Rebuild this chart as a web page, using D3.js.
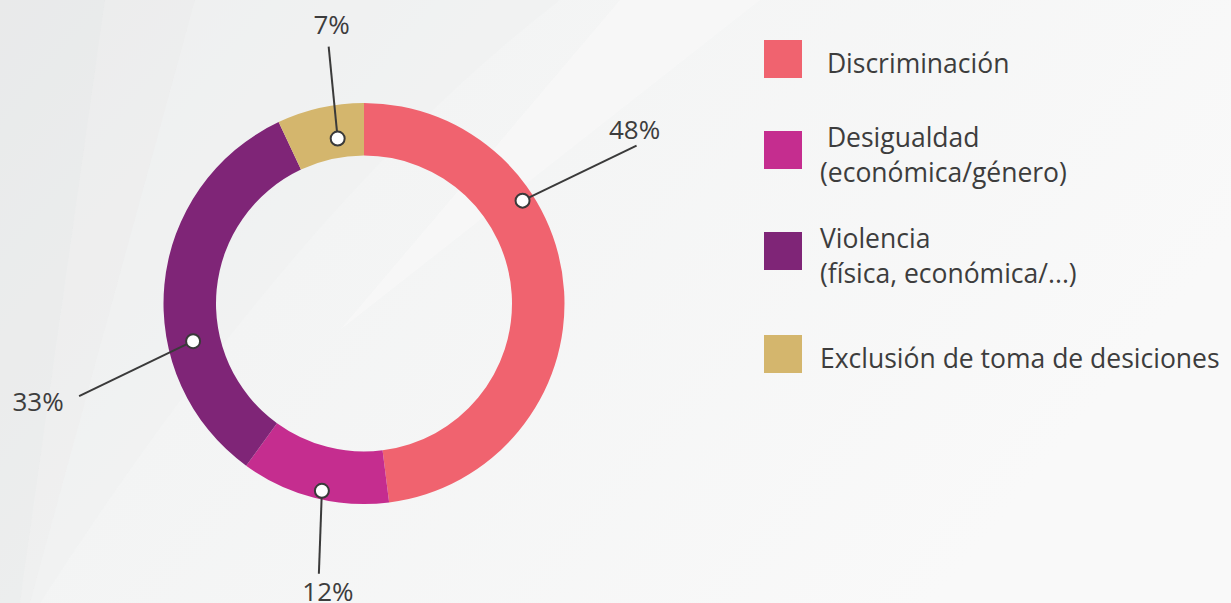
<!DOCTYPE html>
<html>
<head>
<meta charset="utf-8">
<script src="https://cdn.jsdelivr.net/npm/d3@7"></script>
<style>
  body { margin: 0; background: #f5f5f5; overflow: hidden; }
  svg { display: block; }
  text { font-family: "Open Sans", sans-serif; fill: #3d3d3d; }
</style>
</head>
<body>
<div class="chart"></div>
<script>
// values
const categories = ["Discriminación", "Desigualdad", "Violencia", "Exclusión de toma de desiciones"];
const legendLines = [
    [" Discriminación"],
    [" Desigualdad", "(económica/género)"],
    ["Violencia", "(física, económica/...)"],
    ["Exclusión de toma de desiciones"]
];
const values = [48, 12, 33, 7];
const colors = ["#f0636f", "#c52d8f", "#7f2577", "#d4b66d"];

// where the callout dot sits inside each slice (fraction of slice angle, radius)
// and the free end of its line relative to the dot
const callouts = [
    { at: 0.33, r: 189, dx: 114, dy: -55, lx: -2, ly: -7 },
    { at: 0.46, r: 192, dx: -3, dy: 83, lx: 9, ly: 27 },
    { at: 0.35, r: 175, dx: -114, dy: 55, lx: -41, ly: 15 },
    { at: 0.64, r: 167, dx: -9, dy: -92, lx: 3, ly: -13 }
];

var width = 1231, height = 603;
var cx = 364, cy = 303.5;
var outerR = 200.5, innerR = 148;

var svg = d3.select(".chart").append("svg")
    .attr("width", width)
    .attr("height", height);

// soft background
var defs = svg.append("defs");
var bg = defs.append("linearGradient").attr("id", "bg")
    .attr("x1", "0").attr("y1", "0").attr("x2", "1").attr("y2", "0.4");
bg.append("stop").attr("offset", "0").attr("stop-color", "#eaebec");
bg.append("stop").attr("offset", "0.35").attr("stop-color", "#f3f4f4");
bg.append("stop").attr("offset", "1").attr("stop-color", "#f9f9f9");
svg.append("rect").attr("width", width).attr("height", height).attr("fill", "url(#bg)");

// faint diagonal sheets
svg.append("path").attr("d", "M0,0 L105,0 L20,603 L0,603 Z").attr("fill", "#e8e9ea").attr("opacity", 0.6);
svg.append("path").attr("d", "M105,0 L195,0 L30,603 L20,603 Z").attr("fill", "#eceded").attr("opacity", 0.6);
svg.append("path").attr("d", "M195,0 L560,0 Q300,200 40,603 L30,603 Z").attr("fill", "#f0f1f1").attr("opacity", 0.7);
svg.append("path").attr("d", "M620,0 L760,0 L340,330 Z").attr("fill", "#f7f8f8").attr("opacity", 0.8);

var g = svg.append("g").attr("transform", "translate(" + cx + "," + cy + ")");

var pie = d3.pie().sort(null).value(function (d) { return d; });
var arcs = pie(values);

var arc = d3.arc().innerRadius(innerR).outerRadius(outerR);

g.selectAll(".slice")
    .data(arcs)
    .enter().append("path")
    .attr("class", "slice")
    .attr("d", arc)
    .attr("fill", function (d, i) { return colors[i]; });

// callouts
arcs.forEach(function (d, i) {
    let c = callouts[i];
    let a = d.startAngle + (d.endAngle - d.startAngle) * c.at;
    let x = Math.sin(a) * c.r, y = -Math.cos(a) * c.r;
    g.append("line")
        .attr("x1", x).attr("y1", y)
        .attr("x2", x + c.dx).attr("y2", y + c.dy)
        .attr("stroke", "#3a3a3a")
        .attr("stroke-width", 2);
    g.append("circle")
        .attr("cx", x).attr("cy", y)
        .attr("r", 7)
        .attr("fill", "#fff")
        .attr("stroke", "#3a3a3a")
        .attr("stroke-width", 2);
    g.append("text")
        .attr("x", x + c.dx + c.lx)
        .attr("y", y + c.dy + c.ly)
        .attr("font-size", "26px")
        .style("text-anchor", "middle")
        .text(values[i] + "%");
});

// legend
var legend = svg.append("g").attr("transform", "translate(764,40)");
var rowY = [0, 91, 192, 295];
legendLines.forEach(function (lines, i) {
    let row = legend.append("g").attr("transform", "translate(0," + rowY[i] + ")");
    row.append("rect")
        .attr("width", 38).attr("height", 38)
        .attr("fill", colors[i]);
    lines.forEach(function (t, j) {
        row.append("text")
            .attr("x", 56)
            .attr("y", (lines.length > 1 ? 16 : 33) + j * 35)
            .attr("font-size", "26.5px")
            .attr("xml:space", "preserve")
            .style("white-space", "pre")
            .text(t);
    });
});
</script>
</body>
</html>
